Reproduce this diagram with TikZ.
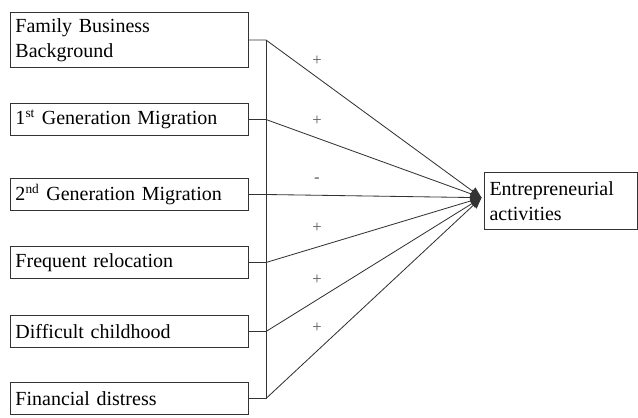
\documentclass[tikz,border=0pt]{standalone}
\usepackage{fontspec}
\setmainfont{Liberation Serif}
\usetikzlibrary{positioning}
\usetikzlibrary{arrows}

\begin{document}
\begin{tikzpicture}[x=0.6pt, y=-0.6pt, node distance=21.6pt,
  factor/.style={draw=black!80, line width=0.6pt, rectangle, text width=136.8pt, align=left, inner xsep=3pt, inner ysep=2pt, minimum height=19.2pt, font=\fontsize{12}{15}\selectfont},
  sign/.style={font=\fontsize{10}{12}\selectfont, text=black!65}]

  \useasboundingbox (0,0) rectangle (638,417);

  % Define nodes
  \node[factor, anchor=north west, minimum height=33pt] (family) at (10,12) {Family Business\\Background};
  \node[factor, below=21pt of family] (first) {1\textsuperscript{st} Generation Migration};
  \node[factor, below=25.2pt of first] (second) {2\textsuperscript{nd} Generation Migration};
  \node[factor, below=21pt of second] (reloc) {Frequent relocation};
  \node[factor, below=21.6pt of reloc] (child) {Difficult childhood};
  \node[factor, below=20.4pt of child] (distress) {Financial distress};
  \node[factor, anchor=north west, text width=86pt, minimum height=34.2pt] (activity) at (484,172) {Entrepreneurial\\activities};
  \coordinate (hub) at ([xshift=-1.5pt, yshift=2pt]activity.west);

  % Signs of the effects
  \node[sign] (s1) at (317,61) {+};
  \node[sign] (s2) at (317,121) {+};
  \node[sign] (s3) at (317,180) {-};
  \node[sign] (s4) at (317,228) {+};
  \node[sign] (s5) at (317,280) {+};
  \node[sign] (s6) at (317,328) {+};

  % Connect the nodes
  \draw [->, >={triangle 45}, black!80, line width=0.5pt] (family.east) -- ++(17,0) coordinate (j1) -- (hub);
  \draw [->, >={triangle 45}, black!80, line width=0.5pt] (first.east) -- ++(17,0) coordinate (j2) -- (hub);
  \draw [->, >={triangle 45}, black!80, line width=0.5pt] (second.east) -- ++(17,0) coordinate (j3) -- (hub);
  \draw [->, >={triangle 45}, black!80, line width=0.5pt] (reloc.east) -- ++(17,0) coordinate (j4) -- (hub);
  \draw [->, >={triangle 45}, black!80, line width=0.5pt] (child.east) -- ++(17,0) coordinate (j5) -- (hub);
  \draw [->, >={triangle 45}, black!80, line width=0.5pt] (distress.east) -- ++(17,0) coordinate (j6) -- (hub);
  \draw [black!80, line width=0.6pt] (j1) -- (j6);

\end{tikzpicture}
\end{document}
